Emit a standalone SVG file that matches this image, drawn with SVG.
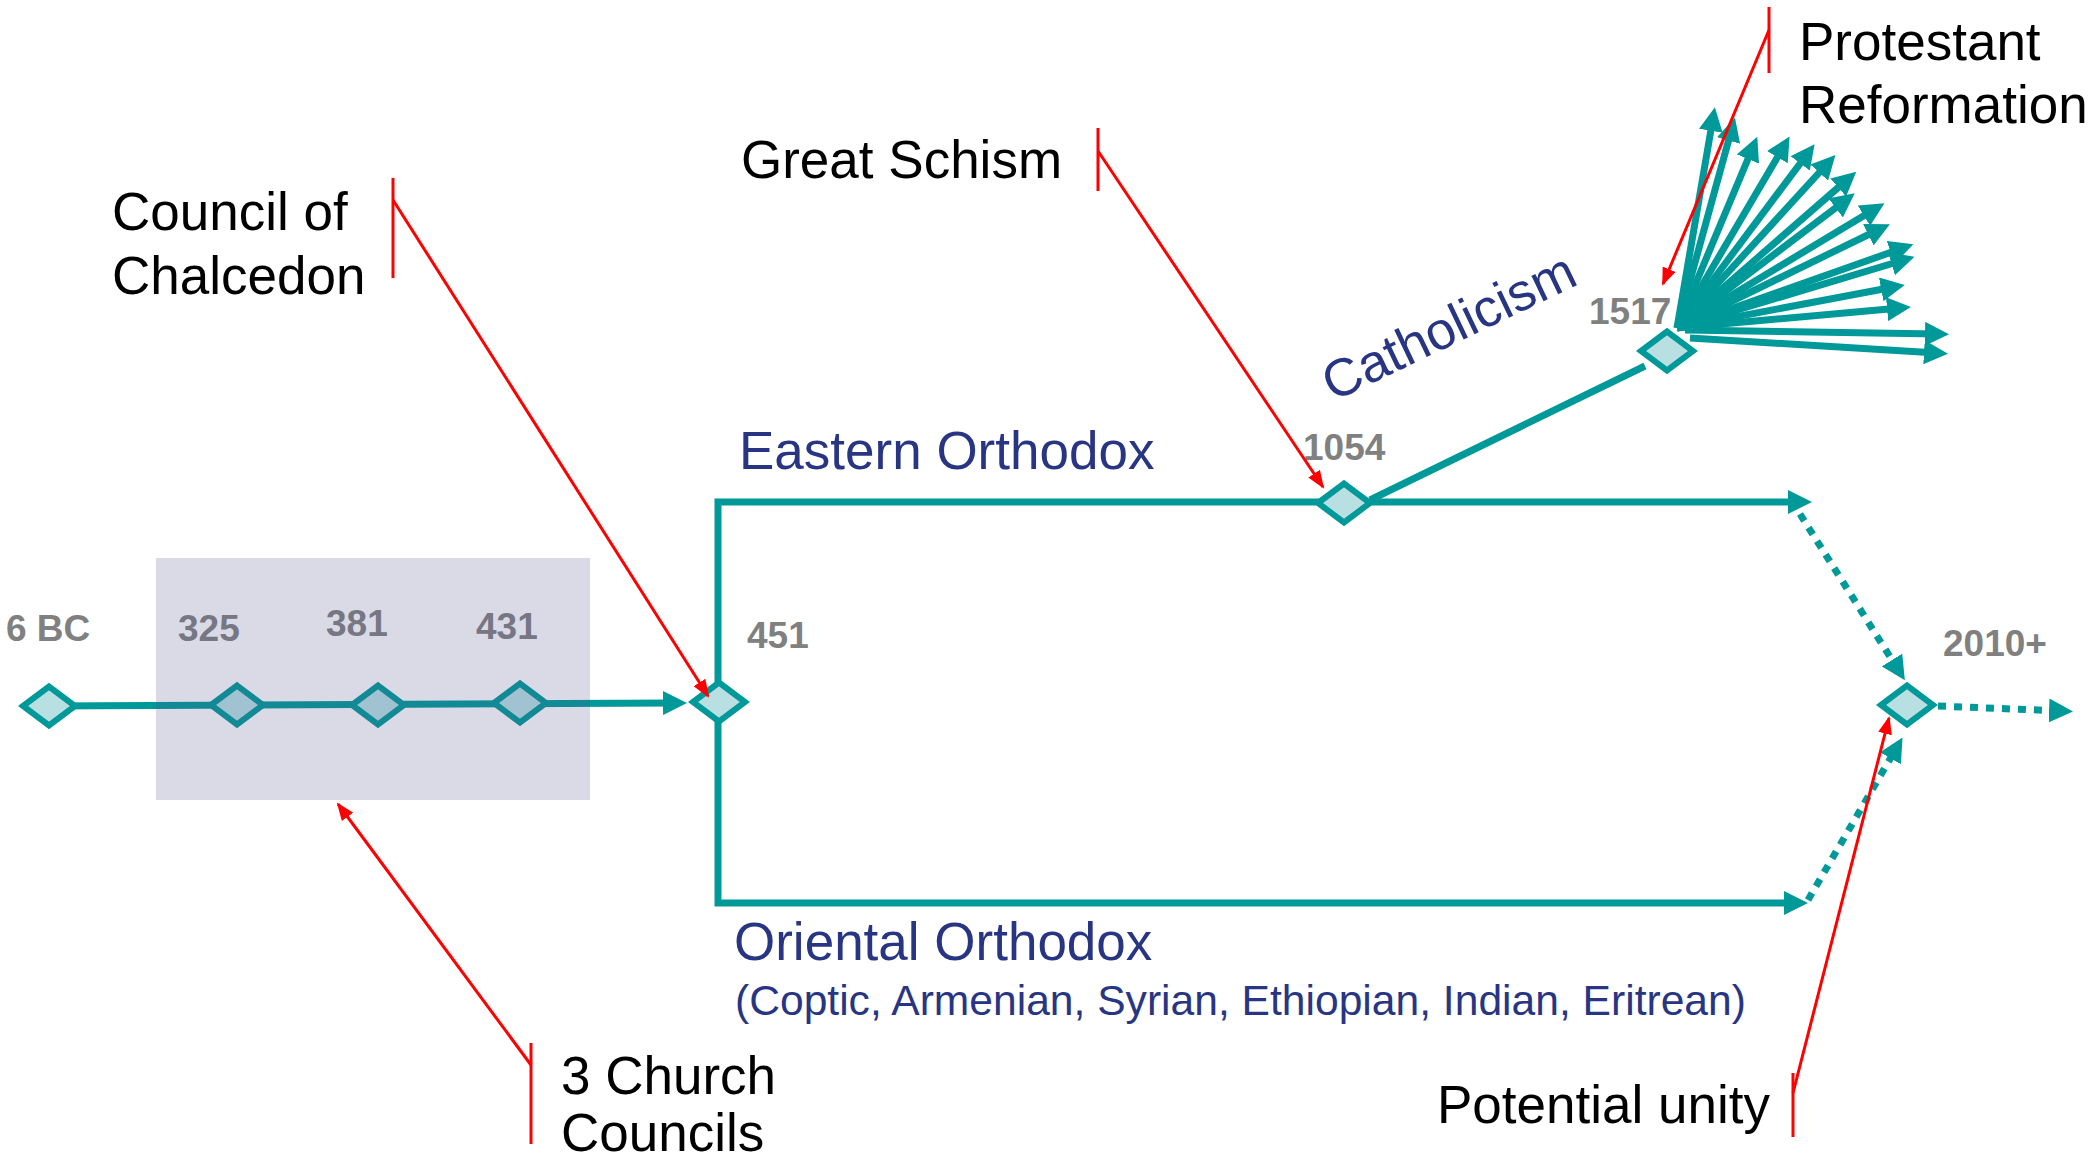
<svg xmlns="http://www.w3.org/2000/svg" width="2097" height="1163" viewBox="0 0 2097 1163">
<style>
.tl{fill:none;stroke:#009999;stroke-width:7;stroke-linejoin:miter}
.dot{fill:none;stroke:#009999;stroke-width:7;stroke-dasharray:8 8}
.red{fill:none;stroke:#ff0000;stroke-width:3}
.dia{fill:#b8e0e3;stroke:#009999;stroke-width:6;stroke-linejoin:miter}
.yr{font-family:"Liberation Sans",Arial,sans-serif;font-weight:bold;font-size:37px;fill:#808080}
.br{font-family:"Liberation Sans",Arial,sans-serif;font-size:53px;fill:#283583}
.sub{font-family:"Liberation Sans",Arial,sans-serif;font-size:42.6px;fill:#283583}
.ann{font-family:"Liberation Sans",Arial,sans-serif;font-size:53px;fill:#000000}
</style>
<defs>
<marker id="ah" markerUnits="userSpaceOnUse" markerWidth="24" markerHeight="24" viewBox="0 0 24 24" refX="13" refY="12" orient="auto"><path d="M0,0 L24,12 L0,24 z" fill="#009999"/></marker>
<marker id="rh" markerUnits="userSpaceOnUse" markerWidth="18" markerHeight="14" viewBox="0 0 18 14" refX="16" refY="7" orient="auto"><path d="M0,0 L18,7 L0,14 z" fill="#ff0000"/></marker>
<path id="dshape" d="M-26,0 L0,-19.5 L26,0 L0,19.5 Z"/>
</defs>

<g id="connectors">
<path class="tl" d="M49,706 L676,703" marker-end="url(#ah)"/>
<path class="tl" d="M718,702 V502 H1801" marker-end="url(#ah)"/>
<path class="tl" d="M718,702 V903 H1797" marker-end="url(#ah)"/>
<path class="tl" d="M1370,500 L1645,366"/>
<path class="dot" d="M1800,514 L1899,671" marker-end="url(#ah)"/>
<path class="dot" d="M1808,900 L1897,747" marker-end="url(#ah)"/>
<path class="dot" d="M1938,706 L2062,711" marker-end="url(#ah)"/>
<g id="fan">
<path class="tl" d="M1677,328 L1713,118" marker-end="url(#ah)"/>
<path class="tl" d="M1677,328 L1732,128" marker-end="url(#ah)"/>
<path class="tl" d="M1677,328 L1753,147" marker-end="url(#ah)"/>
<path class="tl" d="M1677,328 L1784,146" marker-end="url(#ah)"/>
<path class="tl" d="M1677,328 L1808,153" marker-end="url(#ah)"/>
<path class="tl" d="M1677,328 L1828,163" marker-end="url(#ah)"/>
<path class="tl" d="M1677,328 L1848,179" marker-end="url(#ah)"/>
<path class="tl" d="M1677,328 L1846,200" marker-end="url(#ah)"/>
<path class="tl" d="M1677,328 L1875,209" marker-end="url(#ah)"/>
<path class="tl" d="M1677,328 L1880,229" marker-end="url(#ah)"/>
<path class="tl" d="M1677,328 L1903,248" marker-end="url(#ah)"/>
<path class="tl" d="M1677,328 L1904,260" marker-end="url(#ah)"/>
<path class="tl" d="M1677,328 L1894,287" marker-end="url(#ah)"/>
<path class="tl" d="M1677,328 L1900,308" marker-end="url(#ah)"/>
<path class="tl" d="M1685,330 L1938,334" marker-end="url(#ah)"/>
<path class="tl" d="M1690,338 L1937,353" marker-end="url(#ah)"/>
</g>
</g>

<g id="node-6bc"><use href="#dshape" class="dia" x="49" y="706"/><text class="yr" x="6" y="641">6 BC</text></g>
<g id="node-325"><use href="#dshape" class="dia" x="237" y="705"/><text class="yr" x="178" y="641">325</text></g>
<g id="node-381"><use href="#dshape" class="dia" x="378" y="705"/><text class="yr" x="326" y="636">381</text></g>
<g id="node-431"><use href="#dshape" class="dia" x="520" y="703"/><text class="yr" x="476" y="639">431</text></g>
<g id="node-451"><use href="#dshape" class="dia" x="719" y="702"/><text class="yr" x="747" y="648">451</text></g>
<g id="node-1054"><use href="#dshape" class="dia" x="1344" y="503"/><text class="yr" x="1303" y="460">1054</text></g>
<g id="node-1517"><use href="#dshape" class="dia" x="1667" y="351"/><text class="yr" x="1589" y="324">1517</text></g>
<g id="node-2010"><use href="#dshape" class="dia" x="1907" y="705"/><text class="yr" x="1943" y="656">2010+</text></g>

<g id="councils-box"><rect x="156" y="558" width="434" height="242" fill="#50588f" fill-opacity="0.22"/></g>

<g id="branch-labels">
<text class="br" x="739" y="469">Eastern Orthodox</text>
<text class="br" x="1333" y="402" font-size="54" transform="rotate(-25.6 1333 402)">Catholicism</text>
<text class="br" x="734" y="960">Oriental Orthodox</text>
<text class="sub" x="735" y="1015">(Coptic, Armenian, Syrian, Ethiopian, Indian, Eritrean)</text>
</g>

<g id="annotations">
<g id="ann-chalcedon">
<path class="red" d="M393,178 V278"/>
<path class="red" d="M393,200 L708,696" marker-end="url(#rh)"/>
<text class="ann" x="112" y="230">Council of</text>
<text class="ann" x="112" y="294">Chalcedon</text>
</g>
<g id="ann-schism">
<path class="red" d="M1098,128 V191"/>
<path class="red" d="M1098,151 L1323,487" marker-end="url(#rh)"/>
<text class="ann" x="741" y="178">Great Schism</text>
</g>
<g id="ann-reformation">
<path class="red" d="M1769,7 V73"/>
<path class="red" d="M1769,30 L1663,284" marker-end="url(#rh)"/>
<text class="ann" x="1799" y="60">Protestant</text>
<text class="ann" x="1799" y="123">Reformation</text>
</g>
<g id="ann-councils">
<path class="red" d="M531,1043 V1144"/>
<path class="red" d="M531,1065 L338,804" marker-end="url(#rh)"/>
<text class="ann" x="561" y="1094">3 Church</text>
<text class="ann" x="561" y="1151">Councils</text>
</g>
<g id="ann-unity">
<path class="red" d="M1793,1073 V1137"/>
<path class="red" d="M1793,1093 L1889,718" marker-end="url(#rh)"/>
<text class="ann" x="1437" y="1123">Potential unity</text>
</g>
</g>
</svg>
